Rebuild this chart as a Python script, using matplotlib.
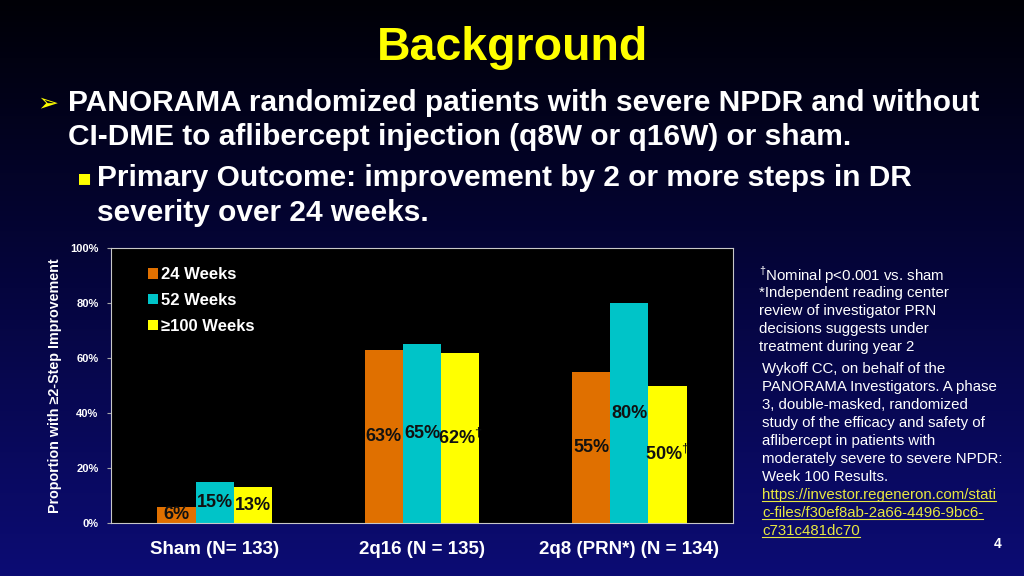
import matplotlib
matplotlib.use("Agg")
import matplotlib.pyplot as plt
import numpy as np
from matplotlib.colors import LinearSegmentedColormap
from matplotlib.lines import Line2D

plt.rcParams['font.family'] = ['Liberation Sans', 'DejaVu Sans']
plt.rcParams['mathtext.fontset'] = 'custom'
plt.rcParams['mathtext.rm'] = 'Liberation Sans'
plt.rcParams['mathtext.bf'] = 'Liberation Sans:bold'

groups = ["Sham (N= 133)", "2q16 (N = 135)", "2q8 (PRN*) (N = 134)"]
series = ["24 Weeks", "52 Weeks", "\u2265100 Weeks"]
week24 = [6, 63, 55]
week52 = [15, 65, 80]
week100 = [13, 62, 50]
labels24 = ["6%", "63%", "55%"]
labels52 = ["15%", "65%", "80%"]
labels100 = ["13%", "62%$^{\\dagger}$", "50%$^{\\dagger}$"]
yticks = [0, 20, 40, 60, 80, 100]

colors = ["#e07000", "#00c4c8", "#ffff00"]
W, H = 1024, 576


def px(x, y):
    return x / W, 1 - y / H


fig = plt.figure(figsize=(10.24, 5.76), dpi=100)

# slide background gradient
bg = fig.add_axes([0, 0, 1, 1], zorder=-10)
cmap = LinearSegmentedColormap.from_list("bg", ["#000006", "#05053e", "#0c0c74"])
grad = np.linspace(0, 1, 256).reshape(-1, 1)
bg.imshow(grad, aspect="auto", cmap=cmap, extent=[0, 1, 0, 1])
bg.axis("off")

# header text
fig.text(*px(512, 48), "Background", color="#ffff00", fontsize=33.5,
         fontweight="bold", ha="center", va="center")
fig.text(*px(37, 103), "\u27a2", color="#ffff00", fontsize=18, ha="left", va="center",
         family=["DejaVu Sans"])
bullet_kw = dict(color="white", fontsize=21.5, fontweight="bold", ha="left", va="center")
fig.text(*px(68, 103), "PANORAMA randomized patients with severe NPDR and without", **bullet_kw)
fig.text(*px(68, 137), "CI-DME to aflibercept injection (q8W or q16W) or sham.", **bullet_kw)
fig.text(*px(77, 178), "\u25aa", color="#ffff00", fontsize=16, ha="left", va="center",
         family=["DejaVu Sans"])
fig.text(*px(97, 178), "Primary Outcome: improvement by 2 or more steps in DR", **bullet_kw)
fig.text(*px(97, 213), "severity over 24 weeks.", **bullet_kw)

# chart
ax = fig.add_axes([111 / W, 53 / H, 622 / W, 275 / H])
ax.set_facecolor("black")
x = np.arange(len(groups))
bw = 0.184
for i, (vals, labs) in enumerate(zip([week24, week52, week100],
                                     [labels24, labels52, labels100])):
    xs = x + (i - 1) * bw
    ax.bar(xs, vals, width=bw, color=colors[i], label=series[i], zorder=2)
    for xi, v, lab in zip(xs, vals, labs):
        ax.text(xi, v / 2, lab, ha="center", va="center", fontsize=13,
                fontweight="bold", color="#111111", zorder=3)

ax.set_xlim(-0.5, 2.5)
ax.set_ylim(0, 100)
ax.set_yticks(yticks)
ax.set_yticklabels([f"{t}%" for t in yticks], color="white", fontsize=8, fontweight="bold")
ax.set_xticks(x)
ax.set_xticklabels(groups, color="white", fontsize=13.5, fontweight="bold")
ax.tick_params(axis="x", length=0, pad=13)
ax.tick_params(axis="y", length=3, color="#aaaaaa", pad=6)
for s in ax.spines.values():
    s.set_color("#c8c8c8")
    s.set_linewidth(0.8)
ax.set_ylabel("Proportion with \u22652-Step Improvement", color="white",
              fontsize=10.3, fontweight="bold", labelpad=6)

leg = ax.legend(loc="upper left", bbox_to_anchor=(0.035, 0.985), frameon=False,
                handlelength=0.6, handleheight=0.6, handletextpad=0.2,
                labelspacing=0.65, prop={"weight": "bold", "size": 12})
for t in leg.get_texts():
    t.set_color("white")

# side notes
notes1 = ["$^{\\dagger}$Nominal p<0.001 vs. sham",
          "*Independent reading center",
          "review of investigator PRN",
          "decisions suggests under",
          "treatment during year 2"]
for k, line in enumerate(notes1):
    fig.text(*px(759, 275 + 18 * k), line, color="white", fontsize=10.8,
             ha="left", va="center")

notes2 = ["Wykoff CC, on behalf of the",
          "PANORAMA Investigators. A phase",
          "3, double-masked, randomized",
          "study of the efficacy and safety of",
          "aflibercept in patients with",
          "moderately severe to severe NPDR:",
          "Week 100 Results."]
for k, line in enumerate(notes2):
    fig.text(*px(762, 369 + 18 * k), line, color="white", fontsize=10.8,
             ha="left", va="center")

url = ["https://investor.regeneron.com/stati",
       "c-files/f30ef8ab-2a66-4496-9bc6-",
       "c731c481dc70"]
url_texts = []
for k, line in enumerate(url):
    url_texts.append(fig.text(*px(762, 495 + 18 * k), line, color="#e8e840",
                              fontsize=10.8, ha="left", va="center"))

fig.text(*px(998, 544), "4", color="white", fontsize=10, fontweight="bold",
         ha="center", va="center")

fig.canvas.draw()
r = fig.canvas.get_renderer()
for t in url_texts:
    bb = t.get_window_extent(r)
    yline = bb.y0 + 1
    fig.add_artist(Line2D([bb.x0 / W, bb.x1 / W], [yline / H, yline / H],
                          color="#e8e840", lw=0.8))

fig.savefig("out.png", dpi=100)
